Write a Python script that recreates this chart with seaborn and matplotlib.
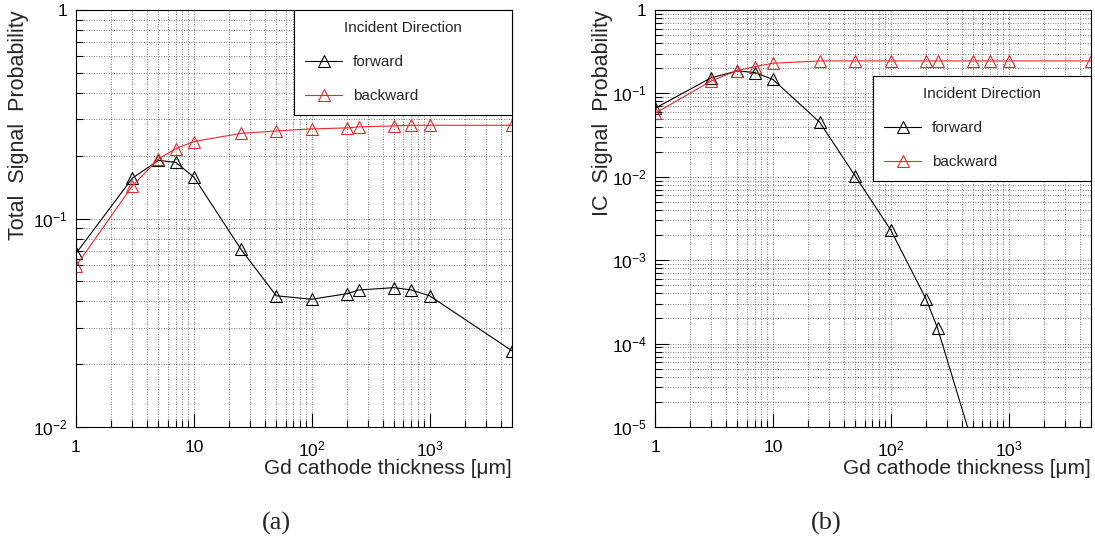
"""signal probability vs Gd cathode thickness - two log-log panels"""

import math

import matplotlib
matplotlib.use("Agg")
import matplotlib.pyplot as plt
import pandas as pd
import seaborn as sns
from matplotlib.ticker import FixedLocator, NullFormatter

# thickness points [um]
thickness = [1, 3, 5, 7, 10, 25, 50, 100, 200, 250, 500, 700, 1000, 5000]

# (a) total signal probability
total_forward = [0.068, 0.156, 0.190, 0.186, 0.158, 0.0714, 0.0426, 0.0410,
                 0.0436, 0.0454, 0.0466, 0.0454, 0.0426, 0.0232]
total_backward = [0.0592, 0.143, 0.193, 0.216, 0.234, 0.256, 0.263, 0.269,
                  0.272, 0.275, 0.278, 0.280, 0.280, 0.280]

# (b) IC signal probability (forward falls below the axis after 500 um)
ic_thickness_fwd = [1, 3, 5, 7, 10, 25, 50, 100, 200, 250, 500]
ic_forward = [0.0662, 0.154, 0.186, 0.178, 0.147, 0.045, 0.0102, 0.0023,
              3.4e-4, 1.52e-4, 6.0e-6]
ic_backward = [0.0577, 0.141, 0.188, 0.209, 0.230, 0.245, 0.245, 0.245,
               0.245, 0.245, 0.245, 0.245, 0.245, 0.245]

sns.set_style("ticks")
plt.rcParams["font.family"] = ["Liberation Sans", "DejaVu Sans"]
plt.rcParams["mathtext.fontset"] = "custom"
plt.rcParams["mathtext.rm"] = "Liberation Sans"
plt.rcParams["mathtext.it"] = "Liberation Sans:italic"

fig = plt.figure(figsize=(10.95, 5.43), dpi=100)
ax_a = fig.add_axes([76 / 1095, 1 - 427 / 543, 436 / 1095, 417 / 543])
ax_b = fig.add_axes([655 / 1095, 1 - 427 / 543, 436 / 1095, 417 / 543])


def draw_series(ax, xs, ys, color, label):
    df = pd.DataFrame({"x": xs, "y": ys})
    sns.lineplot(data=df, x="x", y="y", ax=ax, color=color, lw=0.8,
                 marker="^", markersize=8, markerfacecolor="none",
                 markeredgecolor=color, markeredgewidth=0.8, label=label,
                 sort=False)


def style_axes(ax, ymin, ylabel, ylabel_x, legend_top):
    ax.set_xscale("log")
    ax.set_yscale("log")
    ax.set_xlim(1, 5000)
    ax.set_ylim(ymin, 1)

    xmajor = [1, 10, 100, 1000]
    ax.set_xticks(xmajor, ["1", "10", r"$10^{2}$", r"$10^{3}$"])
    ax.xaxis.set_minor_locator(FixedLocator(
        [m * 10 ** e for e in range(0, 4) for m in range(2, 10) if m * 10 ** e <= 5000]))
    ax.xaxis.set_minor_formatter(NullFormatter())

    n = int(round(-math.log10(ymin)))
    ymajor = [10.0 ** -k for k in range(n, -1, -1)]
    ylabels = [r"$10^{-%d}$" % k if k > 0 else "1" for k in range(n, -1, -1)]
    ax.set_yticks(ymajor, ylabels)
    ax.yaxis.set_minor_locator(FixedLocator(
        [m * 10.0 ** -k for k in range(n, 0, -1) for m in range(2, 10)]))
    ax.yaxis.set_minor_formatter(NullFormatter())

    ax.tick_params(which="both", direction="in", top=False, right=False,
                   labelsize=12.5, colors="black")
    ax.tick_params(axis="x", pad=9)
    ax.tick_params(axis="y", pad=6)
    ax.tick_params(which="major", length=10, width=0.8)
    ax.tick_params(which="minor", length=5, width=0.8)
    ax.grid(which="both", color="#555555", linestyle=(0, (1, 2)), linewidth=0.6)
    for s in ax.spines.values():
        s.set_linewidth(0.8)
        s.set_color("black")

    ax.set_xlabel("Gd cathode thickness [μm]", fontsize=15, loc="right")
    ax.xaxis.set_label_coords(1.0, -0.077)
    ax.set_ylabel(ylabel, fontsize=15.5, loc="top")
    ax.yaxis.set_label_coords(ylabel_x, 1.0)

    leg = ax.legend(title="Incident Direction", loc="upper left",
                    bbox_to_anchor=(0.5, legend_top, 0.5, 0.0), mode="expand",
                    fancybox=False, framealpha=1, edgecolor="black",
                    fontsize=11, title_fontsize=11, labelspacing=1.3,
                    handlelength=2.4, borderpad=0.75, borderaxespad=0.0,
                    handletextpad=0.7)
    leg.get_frame().set_linewidth(0.8)
    leg.get_title().set_ha("center")


draw_series(ax_a, thickness, total_forward, "black", "forward")
draw_series(ax_a, thickness, total_backward, "#e8282b", "backward")
style_axes(ax_a, 0.01, "Total  Signal  Probability", -0.108, 1.0)

draw_series(ax_b, ic_thickness_fwd, ic_forward, "black", "forward")
draw_series(ax_b, thickness, ic_backward, "#e8282b", "backward")
style_axes(ax_b, 1e-5, "IC  Signal  Probability", -0.096, 0.842)

fig.text(276 / 1095, 1 - 523 / 543, "(a)", fontsize=19, ha="center", va="center",
         family=["Liberation Serif", "DejaVu Serif"])
fig.text(826 / 1095, 1 - 523 / 543, "(b)", fontsize=19, ha="center", va="center",
         family=["Liberation Serif", "DejaVu Serif"])

fig.savefig("out.png", dpi=100)
